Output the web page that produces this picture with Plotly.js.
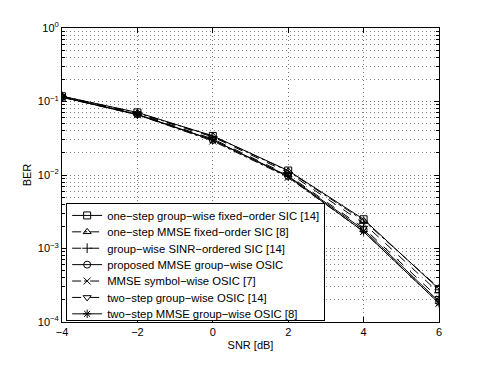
<!DOCTYPE html>
<html>
<head>
<meta charset="utf-8">
<script src="https://cdn.plot.ly/plotly-3.0.1.min.js"></script>
<style>html,body{margin:0;padding:0;background:#fff;}#chart{width:485px;height:365px;}</style>
</head>
<body>
<div id="chart"></div>
<script>
const snr = [-4, -2, 0, 2, 4, 6];

const seriesNames = [
  "one\u2212step group\u2212wise fixed\u2212order SIC [14]",
  "one\u2212step MMSE fixed\u2212order SIC [8]",
  "group\u2212wise SINR\u2212ordered SIC [14]",
  "proposed MMSE group\u2212wise OSIC",
  "MMSE symbol\u2212wise OSIC [7]",
  "two\u2212step group\u2212wise OSIC [14]",
  "two\u2212step MMSE group\u2212wise OSIC [8]"
];

const berOneStepFixed   = [0.118, 0.071, 0.034, 0.0115, 0.0025, 0.00028];
const berOneStepMmse    = [0.118, 0.070, 0.034, 0.0113, 0.0024, 0.00029];
const berSinrOrdered    = [0.117, 0.069, 0.033, 0.0108, 0.0022, 0.00025];
const berProposed       = [0.115, 0.067, 0.030, 0.0097, 0.0018, 0.00019];
const berSymbolWise     = [0.114, 0.066, 0.029, 0.0093, 0.0017, 0.00018];
const berTwoStep        = [0.116, 0.068, 0.031, 0.0100, 0.0019, 0.00021];
const berTwoStepMmse    = [0.115, 0.066, 0.030, 0.0095, 0.0017, 0.00018];

const yTickVals = [1e-4, 1e-3, 1e-2, 1e-1, 1];
const yTickText = ["10<sup>\u22124</sup>", "10<sup>\u22123</sup>", "10<sup>\u22122</sup>", "10<sup>\u22121</sup>", "10<sup>0</sup>"];
const xTickVals = [-4, -2, 0, 2, 4, 6];
const xTickText = ["\u22124", "\u22122", "0", "2", "4", "6"];

const allBer = [berOneStepFixed, berOneStepMmse, berSinrOrdered, berProposed, berSymbolWise, berTwoStep, berTwoStepMmse];
const symbols = ["square-open", "triangle-up-open", "cross-thin-open", "circle-open", "x-thin-open", "triangle-down-open", "asterisk-open"];
const dashes = ["solid", "dashdot", "dash", "solid", "dashdot", "dash", "solid"];

const traces = allBer.map((y, i) => ({
  x: snr, y: y, name: seriesNames[i], type: "scatter", mode: "lines+markers",
  line: {color: "#000", width: 1, dash: dashes[i]},
  marker: {symbol: symbols[i], size: 7, color: "#000", line: {color: "#000", width: 1}}
}));

const fontFam = "Liberation Sans, Arial, Helvetica, sans-serif";
const gridDash = "1px,3px";
const layout = {
  width: 485, height: 365,
  margin: {l: 62, r: 46, t: 28, b: 43},
  paper_bgcolor: "#fff", plot_bgcolor: "#fff",
  font: {family: fontFam, size: 11, color: "#000"},
  showlegend: true,
  legend: {
    x: 0.011, y: 0.405, xanchor: "left", yanchor: "top",
    bgcolor: "#fff", bordercolor: "#000", borderwidth: 1,
    font: {family: fontFam, size: 11.3, color: "#000"},
    tracegroupgap: 0, itemwidth: 30
  },
  xaxis: {
    range: [-4, 6], tickvals: xTickVals, ticktext: xTickText,
    showline: true, linecolor: "#000", linewidth: 1, mirror: "allticks",
    ticks: "inside", ticklen: 5, tickcolor: "#000",
    showgrid: true, gridcolor: "#777", griddash: gridDash, gridwidth: 1,
    zeroline: false,
    title: {text: "SNR [dB]", font: {family: fontFam, size: 11}, standoff: 4}
  },
  yaxis: {
    type: "log", range: [-4, 0], tickvals: yTickVals, ticktext: yTickText,
    showline: true, linecolor: "#000", linewidth: 1, mirror: "allticks",
    ticks: "inside", ticklen: 5, tickcolor: "#000",
    showgrid: true, gridcolor: "#777", griddash: gridDash, gridwidth: 1,
    minor: {dtick: "D1", showgrid: true, gridcolor: "#888", griddash: gridDash, ticks: "inside", ticklen: 3, tickcolor: "#000"},
    zeroline: false,
    title: {text: "BER", font: {family: fontFam, size: 11}, standoff: 3}
  }
};

Plotly.newPlot("chart", traces, layout, {staticPlot: true, displayModeBar: false}).then(() => {
  // tighten legend rows to match the reference spacing and box height
  const legend = document.querySelector(".legend");
  if (!legend) return;
  const items = Array.from(legend.querySelectorAll(".traces"));
  if (items.length < 2) return;
  const parseT = (g) => {
    const m = /translate\(\s*([-\d.e]+)[ ,]+([-\d.e]+)\s*\)/.exec(g.getAttribute("transform") || "");
    return m ? [parseFloat(m[1]), parseFloat(m[2])] : [0, 0];
  };
  const p0 = parseT(items[0]);
  const firstY = p0[1] - 3;
  const newStep = 16.4;
  items.forEach((g, i) => {
    const p = parseT(g);
    g.setAttribute("transform", "translate(" + p[0] + "," + (firstY + i * newStep) + ")");
  });
  const boxH = 117;
  legend.querySelectorAll("rect.bg").forEach(r => r.setAttribute("height", boxH));
  legend.querySelectorAll("clipPath rect").forEach(r => r.setAttribute("height", boxH));
  document.querySelectorAll("defs clipPath[id*='legend'] rect").forEach(r => r.setAttribute("height", boxH));
});
</script>
</body>
</html>
